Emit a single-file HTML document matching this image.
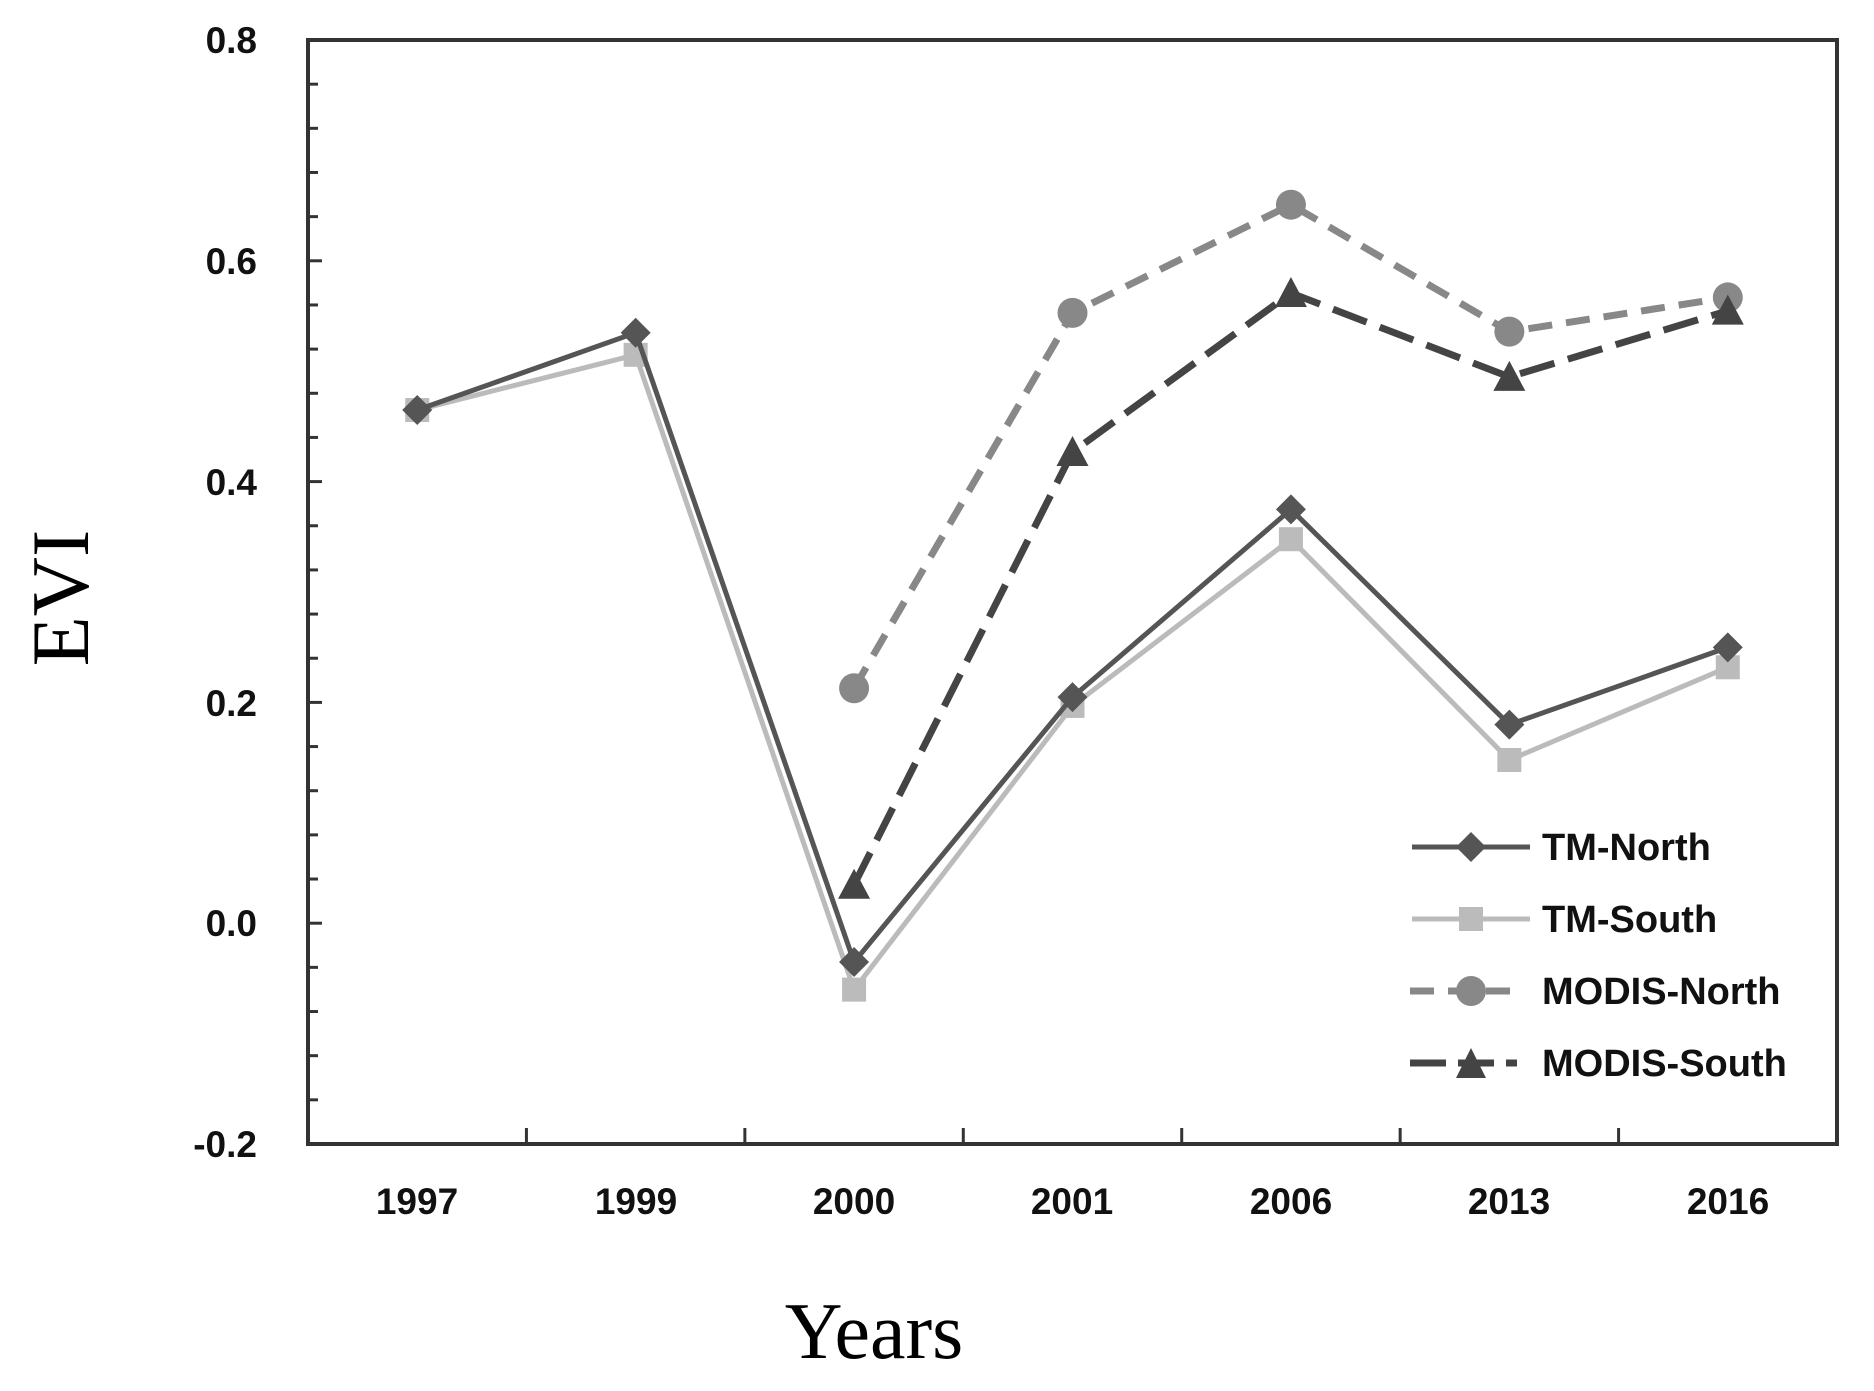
<!DOCTYPE html>
<html><head><style>body{margin:0;background:#fff}svg{display:block}</style></head><body>
<svg width="1874" height="1391" xmlns="http://www.w3.org/2000/svg" font-family="Liberation Sans, sans-serif">
<rect width="1874" height="1391" fill="#fff"/>
<g stroke="#333" stroke-width="4">
<rect x="308" y="40" width="1529" height="1104" fill="none"/>
</g>
<g stroke="#333" stroke-width="3" id="ticks"></g>
<g font-weight="bold" font-size="37" fill="#111" text-anchor="end">
<text x="257" y="53">0.8</text><text x="257" y="274">0.6</text><text x="257" y="495">0.4</text>
<text x="257" y="716">0.2</text><text x="257" y="936">0.0</text><text x="257" y="1157">-0.2</text>
</g>
<g font-weight="bold" font-size="37" fill="#111" text-anchor="middle">
<text x="417" y="1214">1997</text><text x="636" y="1214">1999</text><text x="854" y="1214">2000</text>
<text x="1072" y="1214">2001</text><text x="1291" y="1214">2006</text><text x="1509" y="1214">2013</text><text x="1728" y="1214">2016</text>
</g>
<text x="874" y="1358" font-family="Liberation Serif, serif" font-size="80" text-anchor="middle" fill="#000">Years</text>
<text transform="translate(88,598) rotate(-90)" font-family="Liberation Serif, serif" font-size="82" text-anchor="middle" fill="#000">EVI</text>
<g id="series"></g>
<g font-weight="bold" font-size="38" fill="#111">
<line x1="1412" y1="847" x2="1530" y2="847" stroke="#555" stroke-width="5"/>
<path d="M1471 832 L1486 847 L1471 862 L1456 847Z" fill="#555"/>
<text x="1542" y="860">TM-North</text>
<line x1="1412" y1="919" x2="1530" y2="919" stroke="#bbb" stroke-width="5"/>
<rect x="1459" y="907" width="24" height="24" fill="#bbb"/>
<text x="1542" y="932">TM-South</text>
<line x1="1410" y1="991" x2="1517" y2="991" stroke="#888" stroke-width="7" stroke-dasharray="24,14"/>
<circle cx="1471" cy="991" r="15" fill="#888"/>
<text x="1542" y="1004">MODIS-North</text>
<line x1="1410" y1="1063" x2="1517" y2="1063" stroke="#444" stroke-width="7" stroke-dasharray="36,12"/>
<path d="M1471 1048 L1486 1078 L1456 1078Z" fill="#444"/>
<text x="1542" y="1076">MODIS-South</text>
</g>
<script>
const ns="http://www.w3.org/2000/svg";
const X=i=>308+218.43*(i+0.5), Y=v=>923.4-v*1104;
const t=document.getElementById('ticks');
function ln(p,a){const l=document.createElementNS(ns,'line');for(const k in a)l.setAttribute(k,a[k]);p.appendChild(l);}
for(let k=0;k<=25;k++){const y=40+k*1104/25;const w=(k%5==0)?14:10;ln(t,{x1:308,y1:y,x2:308+w,y2:y});}
for(let i=1;i<7;i++){const x=308+218.43*i;ln(t,{x1:x,y1:1144,x2:x,y2:1128});}
const s=document.getElementById('series');
function series(d,off,col,dash,mk){const pts=[];d.forEach((v,i)=>{if(v!==null)pts.push([X(i),Y(v)])});
const pl=document.createElementNS(ns,'polyline');pl.setAttribute('points',pts.map(p=>p.join(',')).join(' '));
pl.setAttribute('fill','none');pl.setAttribute('stroke',col);pl.setAttribute('stroke-width',dash?7:5);if(dash)pl.setAttribute('stroke-dasharray',dash);s.appendChild(pl);
pts.forEach(([x,y])=>{let e;
if(mk=='d'){e=document.createElementNS(ns,'path');e.setAttribute('d',`M${x} ${y-15}L${x+15} ${y}L${x} ${y+15}L${x-15} ${y}Z`);}
else if(mk=='s'){e=document.createElementNS(ns,'rect');e.setAttribute('x',x-12);e.setAttribute('y',y-12);e.setAttribute('width',24);e.setAttribute('height',24);}
else if(mk=='c'){e=document.createElementNS(ns,'circle');e.setAttribute('cx',x);e.setAttribute('cy',y);e.setAttribute('r',15);}
else {e=document.createElementNS(ns,'path');e.setAttribute('d',`M${x} ${y-16}L${x+16} ${y+14}L${x-16} ${y+14}Z`);}
e.setAttribute('fill',col);s.appendChild(e);});}
series([0.465,0.515,-0.06,0.197,0.348,0.148,0.232],0,'#bbb',null,'s');
series([0.465,0.535,-0.035,0.205,0.375,0.18,0.25],0,'#555',null,'d');
series([null,null,0.213,0.553,0.651,0.536,0.567],0,'#888','24,14','c');
series([null,null,0.035,0.427,0.571,0.495,0.555],0,'#444','36,14','t');
</script>
</svg>
</body></html>
